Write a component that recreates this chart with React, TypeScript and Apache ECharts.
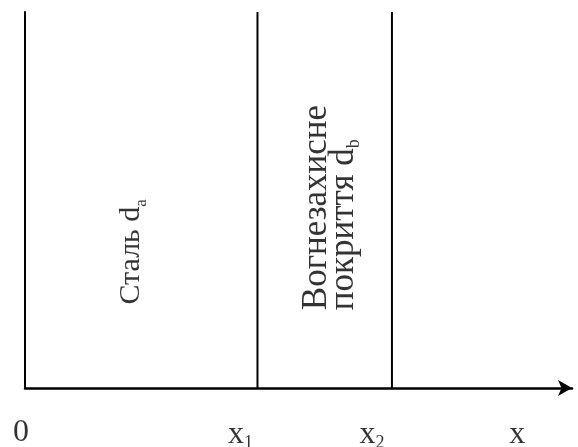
import React, { useEffect, useRef } from "react";
import * as echarts from "echarts";

// Axis range (arbitrary units along the thickness coordinate x)
const X_MIN = 0;
const X_MAX = 12;
const Y_MIN = 0;
const Y_MAX = 1;

// Layer boundaries x1, x2
const boundaries = [5.1, 8.05];

// Tick labels along the x axis and where they sit
const tickValues = [0, 5.1, 8.05, 10.8];
const tickTexts = ["{n|0}", "{i|x}{s|1}", "{i|x}{s|2}", "{i|x}"];

// Layer names (rotated) and their anchor points
const layerTexts = ["{a|Сталь d}{as|a}", "{t|Вогнезахисне}\n{t|покриття d}{ts|b}"];
const layerX = [2.28, 6.64];
const layerY = [0.222, 0.207];

const FONT = "'Liberation Serif', 'Times New Roman', serif";

export default function App() {
  const ref = useRef<HTMLDivElement>(null);

  useEffect(() => {
    if (!ref.current) return;
    const chart = echarts.init(ref.current, undefined, { renderer: "svg" });

    const tickOffsets = [
      [-4, 42],
      [-17, 44],
      [-20, 44],
      [0, 44],
    ];

    const boundarySeries = boundaries.map((b) => ({
      type: "line",
      data: [
        [b, Y_MIN],
        [b, Y_MAX],
      ],
      symbol: "none",
      lineStyle: { color: "#000", width: 2 },
      silent: true,
    }));

    const sub = (size: number, drop: number) => ({
      fontFamily: FONT,
      fontSize: size,
      color: "#000",
      lineHeight: 10,
      verticalAlign: "middle",
      padding: [drop, 0, 0, 0],
    });

    chart.setOption({
      animation: false,
      grid: { left: 25, right: 6, top: 12, bottom: 59 },
      xAxis: {
        type: "value",
        min: X_MIN,
        max: X_MAX,
        axisLine: {
          show: true,
          symbol: ["none", "arrow"],
          symbolSize: [12, 14],
          lineStyle: { color: "#000", width: 2.5 },
        },
        axisTick: { show: false },
        axisLabel: { show: false },
        splitLine: { show: false },
      },
      yAxis: {
        type: "value",
        min: Y_MIN,
        max: Y_MAX,
        axisLine: { show: true, lineStyle: { color: "#000", width: 2 } },
        axisTick: { show: false },
        axisLabel: { show: false },
        splitLine: { show: false },
      },
      series: [
        ...boundarySeries,
        {
          type: "scatter",
          symbolSize: 0,
          silent: true,
          data: tickValues.map((v, i) => ({
            value: [v, Y_MIN],
            label: {
              show: true,
              position: "inside",
              offset: tickOffsets[i],
              formatter: tickTexts[i],
            },
          })),
          label: {
            color: "#000",
            fontFamily: FONT,
            rich: {
              n: { fontFamily: FONT, fontSize: 32, color: "#000", lineHeight: 26 },
              i: { fontFamily: FONT, fontSize: 32, color: "#000", lineHeight: 24 },
              s: sub(18, 20),
            },
          },
        },
        {
          type: "scatter",
          symbolSize: 0,
          silent: true,
          data: layerTexts.map((t, i) => ({
            value: [layerX[i], layerY[i]],
            label: {
              show: true,
              position: "inside",
              rotate: 90,
              align: "left",
              verticalAlign: "middle",
              formatter: t,
            },
          })),
          label: {
            color: "#000",
            fontFamily: FONT,
            rich: {
              a: { fontFamily: FONT, fontSize: 30, color: "#000", lineHeight: 30 },
              as: sub(17, 24),
              t: { fontFamily: FONT, fontSize: 35, color: "#000", lineHeight: 27 },
              ts: sub(18, 24),
            },
          },
        },
      ],
    });

    return () => chart.dispose();
  }, []);

  return (
    <div
      ref={ref}
      style={{ position: "fixed", left: 0, top: 0, width: 578, height: 447 }}
    />
  );
}
